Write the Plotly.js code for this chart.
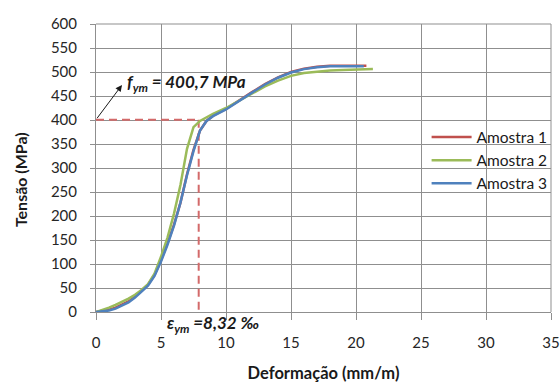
<!DOCTYPE html>
<html>
<head>
<meta charset="utf-8">
<script src="https://cdn.plot.ly/plotly-3.0.1.min.js"></script>
<style>html,body{margin:0;padding:0;background:#fff;}#chart{width:560px;height:389px;}</style>
</head>
<body>
<div id="chart"></div>
<script>
// Amostra 1 (red)
const x1 = [0, 0.5, 1, 1.5, 2, 2.5, 3, 3.5, 4, 4.5, 5, 5.5, 6, 6.5, 7, 7.5, 8, 8.5, 9, 10, 11, 12, 13, 14, 15, 16, 17, 18, 19, 20, 20.8];
const y1 = [0, 2, 5, 9, 15, 22, 32, 44, 57, 77, 108, 143, 182, 228, 287, 338, 378, 398, 409, 423, 441, 458, 475, 489, 500, 507, 511, 513, 513, 513, 513];
// Amostra 2 (green)
const x2 = [0, 0.5, 1, 1.5, 2, 2.5, 3, 3.5, 4, 4.5, 5, 5.5, 6, 6.5, 7, 7.5, 8, 8.5, 9, 10, 11, 12, 13, 14, 15, 16, 17, 18, 19, 20, 21, 21.3];
const y2 = [0, 4, 9, 15, 21, 28, 36, 46, 58, 80, 115, 155, 205, 265, 340, 385, 398, 406, 413, 425, 440, 455, 470, 482, 492, 498, 501, 503, 504, 505, 506, 506];
// Amostra 3 (blue)
const x3 = [0, 0.5, 1, 1.5, 2, 2.5, 3, 3.5, 4, 4.5, 5, 5.5, 6, 6.5, 7, 7.5, 8, 8.5, 9, 10, 11, 12, 13, 14, 15, 16, 17, 18, 19, 20, 20.6];
const y3 = [0, 1, 3, 7, 13, 20, 30, 42, 55, 75, 105, 140, 180, 228, 285, 335, 378, 398, 408, 422, 440, 457, 474, 488, 499, 506, 510, 512, 512, 512, 512];

const seriesNames = ["Amostra 1", "Amostra 2", "Amostra 3"];
const seriesColors = ["#c0504d", "#9bbb59", "#4f81bd"];

// yield values (annotation)
const yieldStress = 400.7;      // MPa
const yieldStrainMark = 7.9;    // position of dashed marker on chart
const fymLabel = "<i><b>f<sub>ym</sub> = 400,7 MPa</b></i>";
const eymLabel = "<i><b>ε<sub>ym</sub> =8,32 ‰</b></i>";
const xTitle = "<b>Deformação (mm/m)</b>";
const yTitle = "<b>Tensão (MPa)</b>";

const xTickVals = [0, 5, 10, 15, 20, 25, 30, 35];
const yTickVals = [0, 50, 100, 150, 200, 250, 300, 350, 400, 450, 500, 550, 600];

const font = "Lato, 'Open Sans', sans-serif";
const dashColor = "#d36a6a";
const gridColor = "#8f8f8f";

const traces = [
  {x: [0, yieldStrainMark], y: [yieldStress, yieldStress], mode: "lines", showlegend: false, hoverinfo: "skip",
   line: {color: dashColor, width: 2, dash: "8px,5px"}},
  {x: [yieldStrainMark, yieldStrainMark], y: [yieldStress, 0], mode: "lines", showlegend: false, hoverinfo: "skip",
   line: {color: dashColor, width: 2, dash: "8px,5px"}},
  {x: x1, y: y1, name: seriesNames[0], mode: "lines", line: {color: seriesColors[0], width: 2.5}},
  {x: x2, y: y2, name: seriesNames[1], mode: "lines", line: {color: seriesColors[1], width: 2.5}},
  {x: x3, y: y3, name: seriesNames[2], mode: "lines", line: {color: seriesColors[2], width: 2.5}}
];

const layout = {
  width: 560, height: 389,
  margin: {l: 96, r: 8, t: 24, b: 77},
  paper_bgcolor: "#fff", plot_bgcolor: "#fff",
  font: {family: font, size: 15, color: "#262626"},
  showlegend: true,
  legend: {x: 0.725, xanchor: "left", y: 0.665, yanchor: "top", bgcolor: "rgba(0,0,0,0)",
           font: {family: font, size: 15.5, color: "#1a1a1a"}, tracegroupgap: 0, itemwidth: 40},
  xaxis: {range: [0, 35], tickvals: xTickVals, ticktext: xTickVals.map(String),
          showgrid: true, gridcolor: gridColor, gridwidth: 1,
          showline: true, linecolor: gridColor, linewidth: 1,
          ticks: "outside", ticklen: 7, tickcolor: gridColor, ticklabelstandoff: 10,
          ticklabeloverflow: "allow",
          zeroline: false, fixedrange: true,
          title: {text: xTitle, font: {family: font, size: 16.5, color: "#1a1a1a"}, standoff: 17}},
  yaxis: {range: [0, 600], tickvals: yTickVals, ticktext: yTickVals.map(String),
          showgrid: true, gridcolor: gridColor, gridwidth: 1,
          showline: true, linecolor: gridColor, linewidth: 1,
          ticks: "outside", ticklen: 5, tickcolor: gridColor, ticklabelstandoff: 10,
          zeroline: false, fixedrange: true},
  shapes: [
    {type: "line", xref: "paper", yref: "paper", x0: 1, x1: 1, y0: 0, y1: 1, line: {color: gridColor, width: 1}},
    {type: "line", xref: "paper", yref: "paper", x0: 0, x1: 1, y0: 1, y1: 1, line: {color: gridColor, width: 1}}
  ],
  annotations: [
    {x: -0.167, y: 0.458, xref: "paper", yref: "paper", textangle: -90, showarrow: false,
     xanchor: "center", yanchor: "middle",
     text: yTitle, font: {family: font, size: 16, color: "#1a1a1a"}},
    {x: 2.0, y: 473, xref: "x", yref: "y", ax: 0, ay: yieldStress, axref: "x", ayref: "y",
     text: "", showarrow: true, arrowhead: 2, arrowsize: 1.3, arrowwidth: 1, arrowcolor: "#1a1a1a", standoff: 0},
    {x: 2.2, y: 478, xref: "x", yref: "y", xanchor: "left", yanchor: "middle", showarrow: false,
     text: fymLabel, font: {family: font, size: 17, color: "#1a1a1a"}},
    {x: 9.0, y: -0.04, xref: "x", yref: "paper", xanchor: "center", yanchor: "middle", showarrow: false,
     text: eymLabel, font: {family: font, size: 17, color: "#1a1a1a"}}
  ]
};

Plotly.newPlot("chart", traces, layout, {displayModeBar: false, staticPlot: true});
</script>
</body>
</html>
